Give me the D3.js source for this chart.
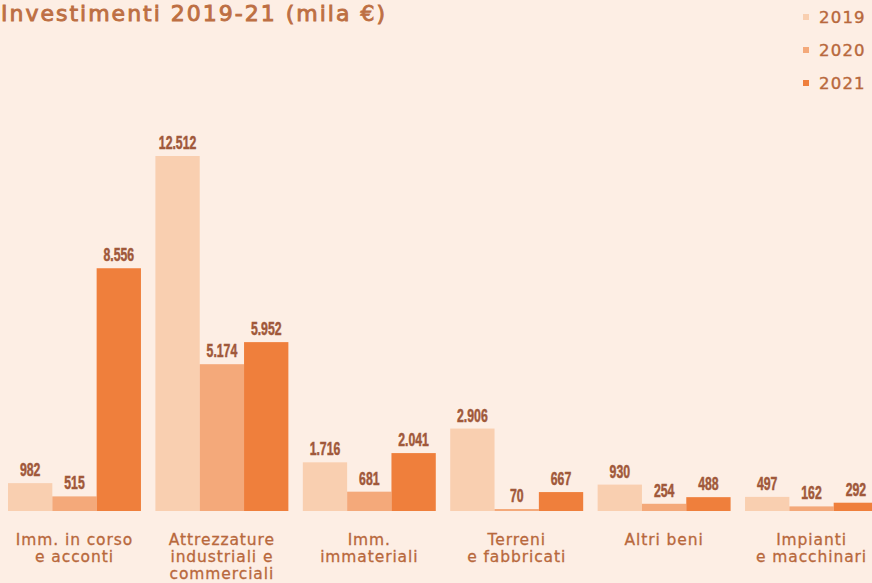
<!DOCTYPE html>
<html>
<head>
<meta charset="utf-8">
<script src="https://cdn.jsdelivr.net/npm/d3@7"></script>
<style>
  html, body { margin: 0; padding: 0; background: #fdeee4; overflow: hidden; }
  svg { display: block; }
</style>
</head>
<body>
<svg id="chart" width="872" height="583"></svg>
<script>
// Investment data, thousands of euro
const categories = [
  ["Imm. in corso", "e acconti"],
  ["Attrezzature", "industriali e", "commerciali"],
  ["Imm.", "immateriali"],
  ["Terreni", "e fabbricati"],
  ["Altri beni"],
  ["Impianti", "e macchinari"]
];
const years = ["2019", "2020", "2021"];
const values2019 = [982, 12512, 1716, 2906, 930, 497];
const values2020 = [515, 5174, 681, 70, 254, 162];
const values2021 = [8556, 5952, 2041, 667, 488, 292];
const series = [values2019, values2020, values2021];
const colors = ["#f9cfb0", "#f4a97a", "#ef7f3c"];

const baseline = 511;
const svg = d3.select("#chart");

const fmt = d3.formatLocale({ decimal: ",", thousands: ".", grouping: [3], currency: ["€", ""] }).format(",d");

const catIdx = categories.map((d, i) => i);
const x0 = d3.scaleBand().domain(catIdx).range([8, 878]).paddingInner(0.098).paddingOuter(0);
const x1 = d3.scaleBand().domain(years).range([0, x0.bandwidth()]).padding(0);
const y = d3.scaleLinear().domain([0, 12512]).range([baseline, 156]);

const valueColor = "#a0583a";
const catColor = "#b8683c";
const sans = "'DejaVu Sans', sans-serif";

// Title (semi-bold look via a thin stroke)
svg.append("text")
  .attr("x", 1).attr("y", 21)
  .attr("font-family", sans)
  .attr("font-size", 22)
  .attr("letter-spacing", 2.0)
  .attr("fill", "#bd6f43")
  .attr("stroke", "#bd6f43").attr("stroke-width", 0.9)
  .text("Investimenti 2019-21 (mila €)");

// Legend
const legend = svg.append("g");
years.forEach((yr, i) => {
  const ly = 17 + i * 33;
  legend.append("rect").attr("x", 803).attr("y", ly - 3).attr("width", 6).attr("height", 6).attr("fill", colors[i]);
  legend.append("text").attr("x", 819).attr("y", ly + 6)
    .attr("font-family", sans)
    .attr("font-size", 16.5).attr("letter-spacing", 1.2)
    .attr("fill", catColor).attr("stroke", catColor).attr("stroke-width", 0.4)
    .text(yr);
});

// Bars and value labels
const groups = svg.append("g").selectAll("g").data(catIdx).join("g")
  .attr("transform", d => `translate(${x0(d)},0)`);

groups.each(function(ci) {
  const g = d3.select(this);
  years.forEach((yr, si) => {
    const v = series[si][ci];
    g.append("rect")
      .attr("x", x1(yr)).attr("y", y(v))
      .attr("width", x1.bandwidth()).attr("height", baseline - y(v))
      .attr("fill", colors[si]);
    // condensed numeric label: horizontally squeezed bold text
    const cx = x1(yr) + x1.bandwidth() / 2, cy = y(v) - 7;
    g.append("text")
      .attr("transform", `translate(${cx},${cy}) scale(0.7,1)`)
      .attr("text-anchor", "middle")
      .attr("font-family", "'Liberation Sans', sans-serif")
      .attr("font-weight", 700).attr("font-size", 17.5)
      .attr("fill", valueColor).attr("stroke", valueColor).attr("stroke-width", 0.5)
      .text(fmt(v));
  });
  // Category label, one text per line
  categories[ci].forEach((line, li) => {
    g.append("text")
      .attr("x", x0.bandwidth() / 2).attr("y", 545 + li * 17)
      .attr("text-anchor", "middle")
      .attr("font-family", sans)
      .attr("font-size", 15.5).attr("letter-spacing", 0.9)
      .attr("fill", catColor).attr("stroke", catColor).attr("stroke-width", 0.3)
      .text(line);
  });
});
</script>
</body>
</html>
